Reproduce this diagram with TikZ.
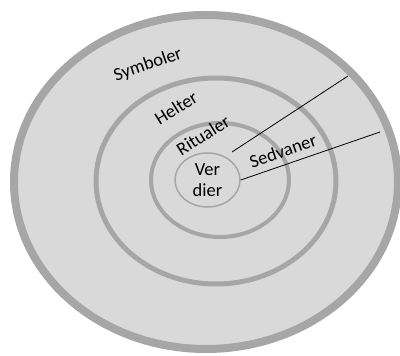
\documentclass[tikz,border=0pt]{standalone}
\usepackage{fontspec}
\setmainfont{Carlito}
\usetikzlibrary{shapes.geometric}
\definecolor{ringgray}{HTML}{A6A6A6}
\definecolor{fillgray}{HTML}{D9D9D9}
\tikzset{
  ring/.style={draw=ringgray,fill=fillgray},
  lbl/.style={font=\fontsize{18.5}{21}\selectfont,inner sep=0pt}
}
\begin{document}
\begin{tikzpicture}[x=1pt,y=1pt]
      \useasboundingbox (0,0) rectangle (400,356);
      \fill[white] (0,0) rectangle (400,356);
      \draw[ring,line width=8] (206,174) ellipse [x radius=192,y radius=167];
      \draw[ring,line width=5] (216,175) ellipse [x radius=120,y radius=103];
      \draw[ring,line width=4] (220,176) ellipse [x radius=69,y radius=57];
      \node[ring,line width=1.5,ellipse,minimum width=65,minimum height=54,
        inner sep=0pt,align=center,font=\fontsize{18.5}{21}\selectfont]
        (verdier) at (207.5,176) {Ver\\dier};
      \node[lbl,rotate=19] (symboler) at (148,291) {Symboler};
      \node[lbl,rotate=32] (helter) at (176,248) {Helter};
      \node[lbl,rotate=32] (ritualer) at (203,221) {Ritualer};
      \node[lbl,rotate=19] (sedvaner) at (283,205) {Sedvaner};
      \coordinate (a) at (232,204);
      \coordinate (b) at (348,280);
      \coordinate (c) at (380,224);
      \begin{scope}[line width=0.8]
        \draw (a) to (b);
        \draw (verdier.east) to (c);
      \end{scope}
    \end{tikzpicture}
\end{document}
